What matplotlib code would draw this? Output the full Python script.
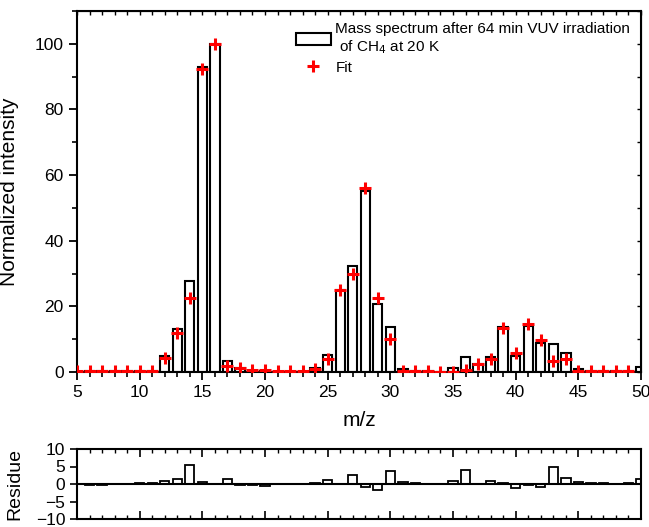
import numpy as np
import matplotlib
matplotlib.use("Agg")
import matplotlib.pyplot as plt
from matplotlib.patches import Patch
from matplotlib.lines import Line2D
from matplotlib.ticker import MultipleLocator

plt.rcParams['font.family'] = ['Liberation Sans', 'DejaVu Sans']

mz = list(range(5, 51))
observed = [0.1, 0.2, 0.2, 0.2, 0.3, 0.3, 0.4, 5.0, 13.0, 27.7, 92.9, 100.0, 3.4, 1.2, 0.3, 0.2,
            0.1, 0.1, 0.1, 1.3, 5.3, 24.9, 32.2, 55.3, 20.7, 13.7, 0.9, 0.3, 0.2, 0.1,
            1.1, 4.5, 2.3, 4.7, 13.8, 4.8, 14.0, 8.9, 8.4, 5.7, 0.8, 0.3, 0.3, 0.2, 0.3, 1.4]
fit = [0.2, 0.3, 0.3, 0.3, 0.3, 0.3, 0.3, 4.2, 11.8, 22.5, 92.2, 100.0, 1.9, 1.3, 0.5, 0.7,
       0.3, 0.3, 0.3, 1.0, 4.0, 24.9, 29.8, 56.0, 22.4, 10.0, 0.4, 0.2, 0.2, 0.1,
       0.1, 0.6, 2.4, 4.0, 13.5, 5.9, 14.5, 9.7, 3.5, 4.0, 0.2, 0.2, 0.2, 0.2, 0.2, np.nan]
residue = [-0.1, -0.2, -0.3, -0.1, 0.1, 0.2, 0.3, 0.8, 1.3, 5.3, 0.7, 0.0, 1.4, -0.2, -0.3, -0.6,
           -0.1, -0.1, 0.1, 0.4, 1.2, 0.0, 2.5, -0.8, -1.6, 3.6, 0.7, 0.2, 0.1, 0.0,
           1.0, 4.0, -0.1, 0.8, 0.3, -1.1, -0.4, -0.8, 4.9, 1.7, 0.7, 0.2, 0.2, 0.0, 0.3, 1.4]

W, H = 649, 527
fig = plt.figure(figsize=(W / 100, H / 100), dpi=100)

def rect(l, t, r, b):
    return [l / W, 1 - b / H, (r - l) / W, (b - t) / H]

ax = fig.add_axes(rect(77, 11, 641, 372))
axr = fig.add_axes(rect(77, 449, 641, 519))

bw = 0.75
tick_fs = 12.5
label_fs = 15

ax.bar(mz, observed, width=bw, facecolor='white', edgecolor='black', linewidth=1.5, zorder=2)
ax.plot(mz, fit, linestyle='none', marker='+', color='red', markersize=9, markeredgewidth=2.2, zorder=3)
ax.set_xlim(5, 50)
ax.set_ylim(0, 110)
ax.xaxis.set_major_locator(MultipleLocator(5))
ax.xaxis.set_minor_locator(MultipleLocator(1))
ax.yaxis.set_major_locator(MultipleLocator(20))
ax.yaxis.set_minor_locator(MultipleLocator(10))
ax.tick_params(axis='both', which='major', direction='out', length=6, width=1.3, labelsize=tick_fs)
ax.tick_params(axis='both', which='minor', direction='out', length=3.5, width=1.2)
ax.tick_params(top=False, right=False, which='both')
sec_t = ax.secondary_xaxis('top')
sec_t.xaxis.set_major_locator(MultipleLocator(1))
sec_t.tick_params(direction='in', length=3, width=1.0, labeltop=False)
sec_r = ax.secondary_yaxis('right')
sec_r.yaxis.set_major_locator(MultipleLocator(10))
sec_r.tick_params(direction='in', length=3, width=1.0, labelright=False)
for s in ax.spines.values():
    s.set_linewidth(1.5)
ax.set_xlabel('m/z', fontsize=label_fs, labelpad=8)
ax.set_ylabel('Normalized intensity', fontsize=label_fs)

handles = [Patch(facecolor='white', edgecolor='black', linewidth=1.5),
           Line2D([], [], linestyle='none', marker='+', color='red', markersize=9, markeredgewidth=2.2)]
labels = ['Mass spectrum after 64 min VUV irradiation\n of CH$_4$ at 20 K', 'Fit']
ax.legend(handles, labels, loc='upper right', frameon=False, fontsize=11,
          handlelength=2.3, handleheight=0.9, handletextpad=0.3, borderaxespad=0.3,
          labelspacing=0.3)

axr.bar(mz, residue, width=bw, facecolor='white', edgecolor='black', linewidth=1.3, zorder=2)
axr.axhline(0, color='black', linewidth=1.5, zorder=3)
axr.set_xlim(5, 50)
axr.set_ylim(-10, 10)
axr.xaxis.set_major_locator(MultipleLocator(5))
axr.xaxis.set_minor_locator(MultipleLocator(1))
axr.yaxis.set_major_locator(MultipleLocator(5))
axr.tick_params(axis='x', which='major', direction='in', length=6, width=1.2, top=True, bottom=True,
                labelbottom=False)
axr.tick_params(axis='x', which='minor', direction='in', length=3, width=1.0, top=True, bottom=True)
axr.tick_params(axis='y', which='major', direction='out', length=5, width=1.2, labelsize=tick_fs)
for s in axr.spines.values():
    s.set_linewidth(1.5)
axr.set_ylabel('Residue', fontsize=14)
axr.yaxis.set_label_coords(-0.095, 0.5)
ax.yaxis.set_label_coords(-0.102, 0.5)

fig.savefig('out.png', dpi=100)
